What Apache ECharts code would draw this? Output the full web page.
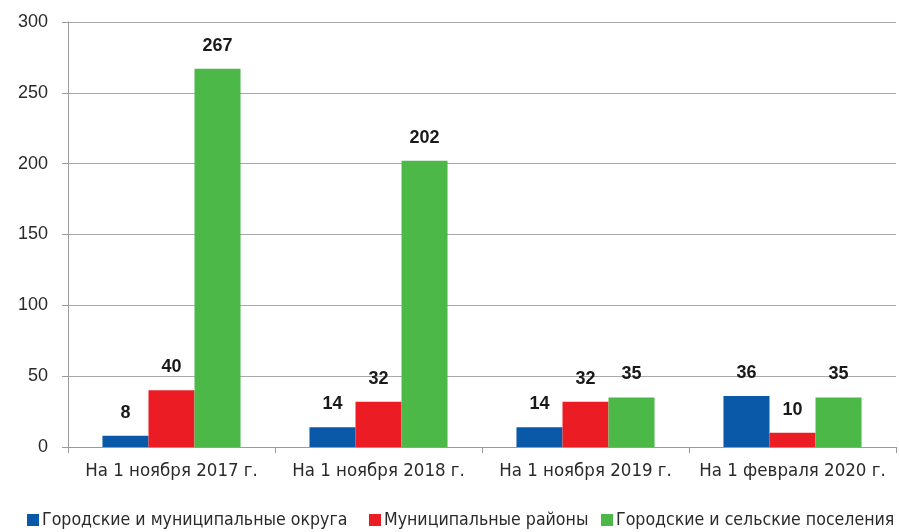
<!DOCTYPE html>
<html>
<head>
<meta charset="utf-8">
<script src="https://cdn.jsdelivr.net/npm/echarts@6/dist/echarts.min.js"></script>
<style>
  html, body { margin: 0; padding: 0; background: #fff; }
  #chart { width: 899px; height: 532px; }
</style>
</head>
<body>
<div id="chart"></div>
<script>
const categories = ['На 1 ноября 2017 г.', 'На 1 ноября 2018 г.', 'На 1 ноября 2019 г.', 'На 1 февраля 2020 г.']
const seriesNames = ['Городские и муниципальные округа', 'Муниципальные районы', 'Городские и сельские поселения']
const okruga = [8, 14, 14, 36]
const rayony = [40, 32, 32, 10]
const poseleniya = [267, 202, 35, 35]
const colors = ['#0a58a8', '#ec1c24', '#4cb848']

const narrow = '"Liberation Sans Narrow", "DejaVu Sans Condensed", "Liberation Sans", sans-serif'

// подписи над столбцами
const barLabel = {
    show: true,
    position: 'top',
    distance: 14,
    color: '#1a1a1a',
    fontSize: 18,
    fontWeight: 'bold',
    fontFamily: '"Liberation Sans", Arial, sans-serif'
}

const makeSeries = (name, data, i) => ({
    name: name,
    type: 'bar',
    data: data,
    barGap: 0,
    barCategoryGap: '33.3%',
    itemStyle: { color: colors[i] },
    label: barLabel
})

// легенда: по одному элементу, чтобы не переносилась
const legendLeft = [27, 369, 601]
const makeLegend = (name, i) => ({
    top: 511,
    left: legendLeft[i],
    padding: 0,
    itemWidth: 12,
    itemHeight: 12,
    icon: 'rect',
    textStyle: {
        fontSize: 17.6,
        color: '#2a2a2a',
        fontFamily: narrow,
        padding: [0, 0, 0, -2]
    },
    data: [name]
})

const option = {
    animation: false,
    grid: {
        left: 68,
        right: 3,
        top: 22,
        bottom: 85,
        containLabel: false
    },
    legend: seriesNames.map(makeLegend),
    xAxis: {
        type: 'category',
        data: categories,
        axisLine: { lineStyle: { color: '#9a9a9a', width: 1 } },
        axisTick: { show: true, length: 6, lineStyle: { color: '#9a9a9a' } },
        axisLabel: {
            interval: 0,
            margin: 15,
            fontSize: 18.5,
            color: '#2a2a2a',
            fontFamily: narrow
        }
    },
    yAxis: {
        type: 'value',
        min: 0,
        max: 300,
        interval: 50,
        axisLine: { show: true, lineStyle: { color: '#9a9a9a', width: 1 } },
        axisTick: { show: true, inside: false, length: 6, lineStyle: { color: '#9a9a9a' } },
        splitLine: { show: true, lineStyle: { color: '#a8a8a8', width: 1 } },
        axisLabel: {
            margin: 20,
            fontSize: 18,
            color: '#2a2a2a',
            fontFamily: '"Liberation Sans", Arial, sans-serif'
        }
    },
    series: [
        makeSeries(seriesNames[0], okruga, 0),
        makeSeries(seriesNames[1], rayony, 1),
        makeSeries(seriesNames[2], poseleniya, 2)
    ]
}

const myChart = echarts.init(document.getElementById('chart'))
myChart.setOption(option)
window.addEventListener('resize', () => {
    myChart.resize()
})
</script>
</body>
</html>
